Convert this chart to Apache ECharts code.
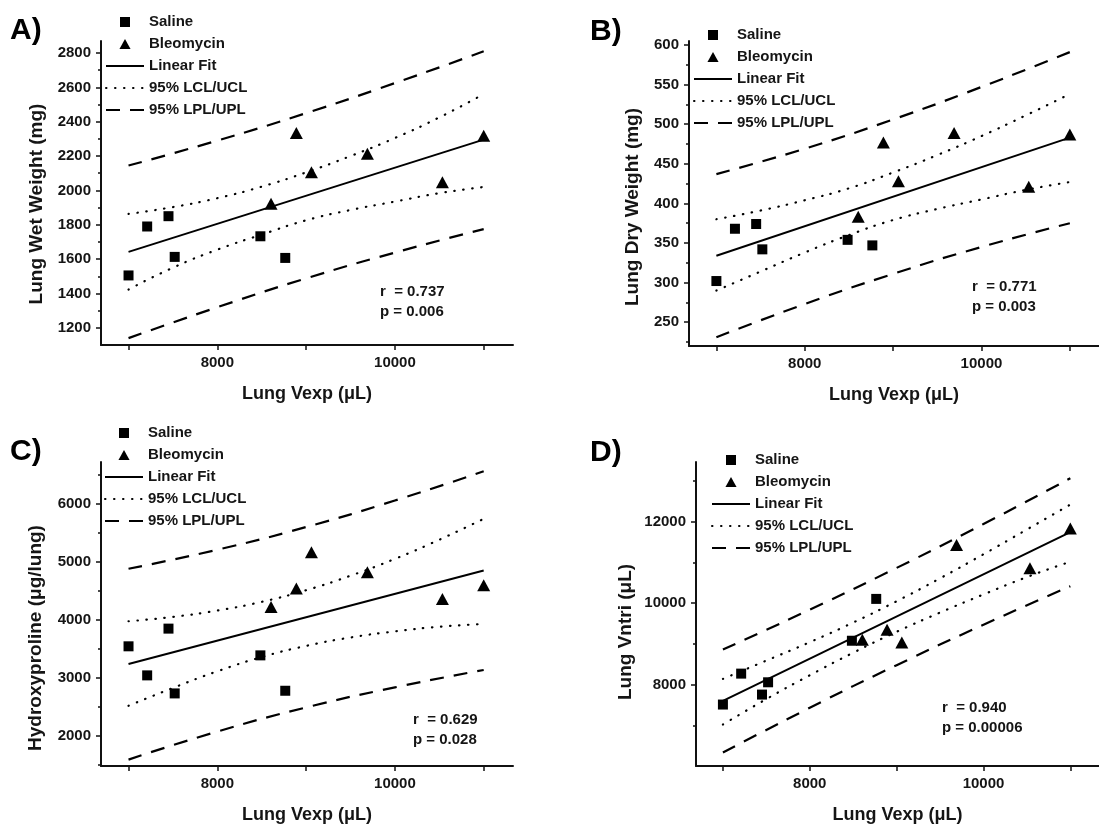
<!DOCTYPE html>
<html>
<head>
<meta charset="utf-8">
<title>Lung Vexp correlations</title>
<script src="https://cdn.jsdelivr.net/npm/echarts@6/dist/echarts.min.js"></script>
<style>
    html, body { margin: 0; padding: 0; background: #fff; }
    #chart { width: 1099px; height: 825px; }
</style>
</head>
<body>
<div id="chart"></div>
<script>
// Lung Vexp (uL), same animals in every panel
var vexpSaline = [7000, 7210, 7450, 7520, 8485, 8765];
var vexpBleo = [8605, 8890, 9060, 9690, 10535, 11000];
var vexpTicks = [7000, 8000, 9000, 10000, 11000];
var vexpLabels = [8000, 10000];

// x positions of the fit line and the bands
var fitX = [7000, 11000];
var ciX = [7000, 7500, 8000, 8500, 9000, 9500, 10000, 10500, 11000];
var piX = [7000, 8000, 9000, 10000, 11000];

// A) lung wet weight
var wetSaline = [1505, 1790, 1850, 1613, 1733, 1607];
var wetBleo = [1923, 2335, 2106, 2214, 2048, 2319];
var wetFit = [1642, 2296];
var wetUcl = [1863, 1903, 1955, 2022, 2105, 2200, 2305, 2425, 2561];
var wetLcl = [1423, 1550, 1655, 1743, 1826, 1886, 1935, 1984, 2020];
var wetUpl = [2145, 2290, 2450, 2625, 2810];
var wetLpl = [1140, 1320, 1488, 1638, 1775];
var wetTicks = [1200, 1400, 1600, 1800, 2000, 2200, 2400, 2600, 2800];
var wetMinor = [1300, 1500, 1700, 1900, 2100, 2300, 2500, 2700];

// B) lung dry weight
var drySaline = [302, 368, 374, 342, 354, 347];
var dryBleo = [383, 477, 428, 489, 421, 487];
var dryFit = [334, 483];
var dryUcl = [380, 391, 404, 419, 439, 461, 485, 511, 538];
var dryLcl = [290, 314, 338, 360, 379, 393, 405, 417, 427];
var dryUpl = [437, 469, 506, 547, 591];
var dryLpl = [231, 273, 311, 345, 375];
var dryTicks = [250, 300, 350, 400, 450, 500, 550, 600];
var dryMinor = [225, 275, 325, 375, 425, 475, 525, 575];

// C) hydroxyproline
var hypSaline = [3543, 3042, 3848, 2731, 3387, 2777];
var hypBleo = [4222, 4538, 5166, 4820, 4360, 4596];
var hypFit = [3238, 4849];
var hypUcl = [3975, 4050, 4160, 4310, 4510, 4760, 5050, 5380, 5741];
var hypLcl = [2518, 2825, 3112, 3358, 3550, 3695, 3800, 3880, 3928];
var hypUpl = [4880, 5208, 5599, 6056, 6560];
var hypLpl = [1590, 2074, 2489, 2836, 3135];
var hypTicks = [2000, 3000, 4000, 5000, 6000];
var hypMinor = [1500, 2500, 3500, 4500, 5500, 6500];

// D) lung Vntri
var vntSaline = [7510, 8270, 7755, 8057, 9078, 10106];
var vntBleo = [9102, 9347, 9037, 11429, 10857, 11837];
var vntFit = [7600, 11745];
var vntUcl = [8140, 8590, 9042, 9525, 10049, 10612, 11203, 11812, 12424];
var vntLcl = [7020, 7645, 8230, 8783, 9297, 9770, 10215, 10642, 11020];
var vntUpl = [8860, 9841, 10868, 11946, 13071];
var vntLpl = [6330, 7431, 8478, 9472, 10419];
var vntTicks = [8000, 10000, 12000];
var vntMinor = [7000, 9000, 11000, 13000];

var panels = [
    {letter: 'A)', yName: 'Lung Wet Weight (mg)', r: 'r  = 0.737', p: 'p = 0.006', yMin: 1100, yMax: 2870,
        saline: wetSaline, bleo: wetBleo, fit: wetFit, ucl: wetUcl, lcl: wetLcl, upl: wetUpl, lpl: wetLpl, ticks: wetTicks, minor: wetMinor},
    {letter: 'B)', yName: 'Lung Dry Weight (mg)', r: 'r  = 0.771', p: 'p = 0.003', yMin: 220, yMax: 605,
        saline: drySaline, bleo: dryBleo, fit: dryFit, ucl: dryUcl, lcl: dryLcl, upl: dryUpl, lpl: dryLpl, ticks: dryTicks, minor: dryMinor},
    {letter: 'C)', yName: 'Hydroxyproline (μg/lung)', r: 'r  = 0.629', p: 'p = 0.028', yMin: 1480, yMax: 6720,
        saline: hypSaline, bleo: hypBleo, fit: hypFit, ucl: hypUcl, lcl: hypLcl, upl: hypUpl, lpl: hypLpl, ticks: hypTicks, minor: hypMinor},
    {letter: 'D)', yName: 'Lung Vntri (μL)', r: 'r  = 0.940', p: 'p = 0.00006', yMin: 6000, yMax: 13470,
        saline: vntSaline, bleo: vntBleo, fit: vntFit, ucl: vntUcl, lcl: vntLcl, upl: vntUpl, lpl: vntLpl, ticks: vntTicks, minor: vntMinor}
];

// pixel layout of each panel
var layout = [
    {grid: {left: 101, top: 41, width: 412, height: 304}, letter: [10, 31], yName: [37, 204], stats: [380, 292], legend: [105, 14]},
    {grid: {left: 689, top: 41, width: 420, height: 305}, letter: [590, 32], yName: [633, 207], stats: [972, 287], legend: [693, 27]},
    {grid: {left: 101, top: 462, width: 412, height: 304}, letter: [10, 452], yName: [36, 638], stats: [413, 720], legend: [104, 425]},
    {grid: {left: 696, top: 462, width: 414, height: 305}, letter: [590, 453], yName: [626, 632], stats: [942, 708], legend: [711, 452]}
];

var fontFam = '"Liberation Sans", Arial, Helvetica, sans-serif';
var ink = '#151515';

var pairs = function (xs, ys) {
    var out = [];
    for (var i = 0; i < xs.length; i++) {
        out.push([xs[i], ys[i]]);
    }
    return out;
};

var lineSeries = function (name, idx, xs, ys, type, cap) {
    return {
        name: name,
        type: 'line',
        xAxisIndex: idx,
        yAxisIndex: idx * 2,
        data: pairs(xs, ys),
        smooth: type !== 'solid',
        symbol: 'none',
        showSymbol: false,
        silent: true,
        itemStyle: {color: '#000'},
        lineStyle: {color: '#000', width: type === 'solid' ? 2 : 2.2, type: type, cap: cap || 'butt'},
        z: 2
    };
};

var dotType = [0.5, 8.5];
var dashType = [14, 10];

var grids = [], xAxes = [], yAxes = [], series = [], graphics = [], legends = [];

for (var i = 0; i < panels.length; i++) {
    var p = panels[i], l = layout[i];
    grids.push(l.grid);

    xAxes.push({
        type: 'value', gridIndex: i, min: 6690, max: 11330,
        name: 'Lung Vexp (μL)', nameLocation: 'middle', nameGap: 40,
        nameTextStyle: {fontSize: 18, fontWeight: 'bold', color: ink, fontFamily: fontFam},
        splitLine: {show: false},
        axisLine: {show: true, onZero: false, lineStyle: {color: '#111', width: 2}},
        axisTick: {show: true, customValues: vexpTicks, length: 5, lineStyle: {color: '#111', width: 1.5}},
        axisLabel: {
            customValues: vexpLabels, margin: 10, fontSize: 15, fontWeight: 'bold', color: ink, fontFamily: fontFam,
            formatter: function (v) { return String(v); }
        }
    });

    //主刻度 + 标签
    yAxes.push({
        type: 'value', gridIndex: i, position: 'left', min: p.yMin, max: p.yMax,
        splitLine: {show: false},
        axisLine: {show: true, onZero: false, lineStyle: {color: '#111', width: 2}},
        axisTick: {show: true, customValues: p.ticks, length: 5, lineStyle: {color: '#111', width: 1.5}},
        axisLabel: {
            customValues: p.ticks, margin: 10, fontSize: 15, fontWeight: 'bold', color: ink, fontFamily: fontFam,
            formatter: function (v) { return String(v); }
        }
    });
    //次刻度，只画短刻度线
    yAxes.push({
        type: 'value', gridIndex: i, position: 'left', offset: 0, min: p.yMin, max: p.yMax,
        splitLine: {show: false},
        axisLine: {show: false},
        axisLabel: {show: false},
        axisTick: {show: true, customValues: p.minor, length: 3, lineStyle: {color: '#111', width: 1.5}}
    });

    series.push(lineSeries('95% LPL/UPL', i, piX, p.upl, dashType));
    series.push(lineSeries('95% LPL/UPL', i, piX, p.lpl, dashType));
    series.push(lineSeries('95% LCL/UCL', i, ciX, p.ucl, dotType, 'round'));
    series.push(lineSeries('95% LCL/UCL', i, ciX, p.lcl, dotType, 'round'));
    series.push(lineSeries('Linear Fit', i, fitX, p.fit, 'solid'));
    series.push({
        name: 'Saline', type: 'scatter', xAxisIndex: i, yAxisIndex: i * 2,
        data: pairs(vexpSaline, p.saline), symbol: 'rect', symbolSize: 10,
        itemStyle: {color: '#000', opacity: 1}, silent: true, z: 5
    });
    series.push({
        name: 'Bleomycin', type: 'scatter', xAxisIndex: i, yAxisIndex: i * 2,
        data: pairs(vexpBleo, p.bleo), symbol: 'triangle', symbolSize: [13, 12],
        itemStyle: {color: '#000', opacity: 1}, silent: true, z: 5
    });

    // 图例：线条图例不要中间的圆点
    legends.push({
        orient: 'vertical', left: l.legend[0], top: l.legend[1], padding: 0,
        itemWidth: 38, itemHeight: 10, itemGap: 6, selectedMode: false,
        textStyle: {fontSize: 15, fontWeight: 'bold', color: ink, fontFamily: fontFam, lineHeight: 16},
        data: [
            {name: 'Saline', icon: 'path://M0,0L10,0L10,10L0,10Z', itemStyle: {color: '#000', opacity: 1}},
            {name: 'Bleomycin', icon: 'path://M5,0L10,9L0,9Z', itemStyle: {color: '#000', opacity: 1}},
            {name: 'Linear Fit', itemStyle: {opacity: 0}},
            {name: '95% LCL/UCL', itemStyle: {opacity: 0}},
            {name: '95% LPL/UPL', itemStyle: {opacity: 0}}
        ]
    });

    graphics.push({
        type: 'text', x: l.letter[0], y: l.letter[1], silent: true,
        style: {text: p.letter, fontSize: 30, fontWeight: 'bold', fontFamily: fontFam, fill: '#000', align: 'left', verticalAlign: 'middle'}
    });
    graphics.push({
        type: 'text', x: l.yName[0], y: l.yName[1], rotation: Math.PI / 2, silent: true,
        style: {text: p.yName, fontSize: 19, fontWeight: 'bold', fontFamily: fontFam, fill: ink, align: 'center', verticalAlign: 'middle'}
    });
    graphics.push({
        type: 'text', x: l.stats[0], y: l.stats[1], silent: true,
        style: {text: p.r, fontSize: 15, fontWeight: 'bold', fontFamily: fontFam, fill: ink, align: 'left', verticalAlign: 'middle'}
    });
    graphics.push({
        type: 'text', x: l.stats[0], y: l.stats[1] + 20, silent: true,
        style: {text: p.p, fontSize: 15, fontWeight: 'bold', fontFamily: fontFam, fill: ink, align: 'left', verticalAlign: 'middle'}
    });
}

var myChart = echarts.init(document.getElementById('chart'), null, {renderer: 'canvas'});
myChart.setOption({
    backgroundColor: '#fff',
    animation: false,
    grid: grids,
    xAxis: xAxes,
    yAxis: yAxes,
    legend: legends,
    graphic: graphics,
    series: series
});
</script>
</body>
</html>
